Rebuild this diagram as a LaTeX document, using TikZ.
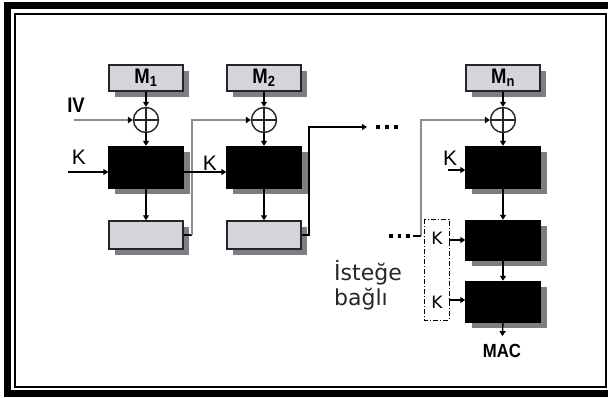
\documentclass[tikz,border=0pt]{standalone}
\usepackage{fontspec}
\setmainfont{Liberation Sans}
\newfontfamily\tah{DejaVu Sans}
\usetikzlibrary{arrows.meta,shadows}
\definecolor{boxgrey}{RGB}{212,213,218}
\definecolor{shadegrey}{RGB}{125,125,130}
\definecolor{linegrey}{RGB}{140,140,140}
\newcommand{\nrw}[1]{\scalebox{0.88}[1]{#1}}
\begin{document}
\begin{tikzpicture}[x=1pt,y=-1pt,
  shd/.style={drop shadow={shadow xshift=6pt,shadow yshift=-6pt,fill=shadegrey,opacity=1}},
  mbox/.style={shd,draw=black!85,line width=1.5pt,fill=boxgrey,minimum width=74pt,minimum height=26pt,inner sep=0pt,font=\fontsize{21}{21}\selectfont\bfseries},
  blk/.style={shd,draw=black,fill=black,minimum width=75pt,minimum height=42pt,inner sep=0pt},
  gbox/.style={shd,draw=black!85,line width=1.5pt,fill=boxgrey,minimum width=74pt,minimum height=28pt,inner sep=0pt},
  xor/.style={circle,draw=black!85,line width=1.4pt,fill=white,minimum size=25pt,inner sep=0pt,
    path picture={\draw[black!85,line width=1.3pt] (path picture bounding box.west) -- (path picture bounding box.east)
      (path picture bounding box.north) -- (path picture bounding box.south);}},
  arr/.style={draw=black,line width=1.4pt,-{Triangle[length=5pt,width=6pt]}},
  bline/.style={draw=black,line width=1.4pt},
  garr/.style={draw=linegrey,line width=2.8pt,-{Triangle[length=5pt,width=6.5pt,color=black]}},
  klbl/.style={inner sep=0pt,font=\fontsize{21}{21}\selectfont},
  sklbl/.style={inner sep=0pt,font=\tah\fontsize{17}{17}\selectfont},
  dotsq/.style={fill=black,minimum size=3.5pt,inner sep=0pt}]
\useasboundingbox (0,0) rectangle (608,397);
% frame
\fill[black] (4,2) rectangle (11,397);
\fill[black] (4,2) rectangle (608,9);
\fill[black] (4,390) rectangle (608,397);
\draw[black,line width=2pt] (15,14) rectangle (606,387);

% column 1
\node[mbox] (m1) at (146,78) {\nrw{M\textsubscript{1}}};
\node[xor] (x1) at (146,120) {};
\node[blk] (b1) at (146,167) {};
\node[gbox] (l1) at (146,235) {};
% column 2
\node[mbox] (m2) at (264,78) {\nrw{M\textsubscript{2}}};
\node[xor] (x2) at (264,120) {};
\node[blk] (b2) at (264,167) {};
\node[gbox] (l2) at (264,235) {};
% column n
\node[mbox] (mn) at (503,78) {\nrw{M\textsubscript{n}}};
\node[xor] (xn) at (503,120) {};
\node[blk] (bn1) at (503,167) {};
\node[blk,minimum height=40pt] (bn2) at (503,240) {};
\node[blk,minimum height=41pt] (bn3) at (503,301.5) {};
\node[inner sep=0pt,font=\fontsize{19}{19}\selectfont\bfseries] (mac) at (502,351) {\nrw{MAC}};

% labels
\node[klbl,font=\fontsize{21}{21}\selectfont\bfseries] (iv) at (76,105) {\nrw{IV}};
\node[klbl] (k1) at (79,157) {K};
\node[klbl] (k2) at (210,163) {K};
\node[klbl] (kn) at (450,158) {K};
\node[sklbl] (kd1) at (437,238) {K};
\node[sklbl] (kd2) at (437,302) {K};
\node[inner sep=0pt,anchor=base west,font=\tah\fontsize{22}{22}\selectfont,text=black!85] (ist) at (334,280) {İsteğe};
\node[inner sep=0pt,anchor=base west,font=\tah\fontsize{22}{22}\selectfont,text=black!85] (bag) at (334,305) {bağlı};

% coordinates
\coordinate (ivs) at (74,120);
\coordinate (k1s) at (68,172);
\coordinate (f1) at (192,235);
\coordinate (f2) at (309,235);
\coordinate (f2e) at (367,127);
\coordinate (fn) at (421,236);
\coordinate (kns) at (448,170);
\coordinate (kd1s) at (449,240);
\coordinate (kd2s) at (449,300);

% grey feedback lines
\draw[garr] (ivs) -- (x1.west);
\draw[bline] (l1.east) -- (f1);
\draw[garr] (f1) |- (x2.west);
\draw[garr] (fn) |- (xn.west);

% vertical flows
\draw[arr] (m1.south) -- (x1.north);
\draw[arr] (x1.south) -- (b1.north);
\draw[arr] (b1.south) -- (l1.north);
\draw[arr] (m2.south) -- (x2.north);
\draw[arr] (x2.south) -- (b2.north);
\draw[arr] (b2.south) -- (l2.north);
\draw[arr] (mn.south) -- (xn.north);
\draw[arr] (xn.south) -- (bn1.north);
\draw[arr] (bn1.south) -- (bn2.north);
\draw[arr] (bn2.south) -- (bn3.north);
\draw[arr,shorten >=8pt] (bn3.south) -- (mac.north);

% key inputs
\draw[arr] (k1s) -- (k1s -| b1.west);
\draw[arr] (b1.east |- k1s) -- (b2.west |- k1s);
\draw[arr] (kns) -- (kns -| bn1.west);
\draw[arr] (kd1s) -- (kd1s -| bn2.west);
\draw[arr] (kd2s) -- (kd2s -| bn3.west);

% chain from L2
\draw[bline,-{Triangle[length=5pt,width=6pt]}] (l2.east) -- (f2) |- (f2e);
\node[dotsq] (d1) at (378,127) {};
\node[dotsq] (d2) at (387,127) {};
\node[dotsq] (d3) at (396,127) {};
% dots into last stage
\node[dotsq] (e1) at (391,236) {};
\node[dotsq] (e2) at (399.5,236) {};
\node[dotsq] (e3) at (408,236) {};
\draw[bline] (413,236) -- (fn);

% optional key box
\draw[black,line width=1pt,dash pattern=on 5pt off 2pt on 1pt off 2pt] (424,219) rectangle (449,320);
\end{tikzpicture}
\end{document}
